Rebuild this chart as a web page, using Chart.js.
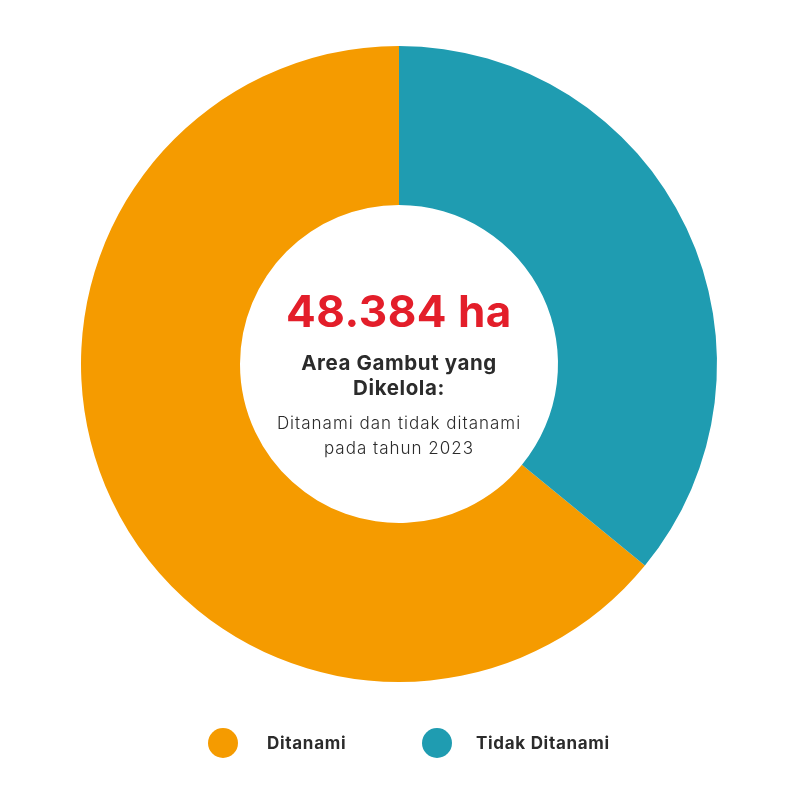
<!DOCTYPE html>
<html>
<head>
<meta charset="utf-8">
<script src="https://cdn.jsdelivr.net/npm/chart.js@4"></script>
<style>
  body { margin: 0; background: #fff; }
  #wrap { width: 810px; height: 810px; }
</style>
</head>
<body>
<div id="wrap"><canvas id="donut" width="810" height="810"></canvas></div>
<script>
// data (ha)
var categories = ['Ditanami', 'Tidak Ditanami'];
var luas = [31000, 17384];
var warna = ['#F59B00', '#1F9CB1'];
var judul = '48.384 ha';
var subjudul = ['Area Gambut yang', 'Dikelola:'];
var keterangan = ['Ditanami dan tidak ditanami', 'pada tahun 2023'];

var total = luas[0] + luas[1];
var FONT = 'Inter, "Open Sans", sans-serif';

// center text + legend drawn on the canvas
var centerText = {
  id: 'centerText',
  afterDraw: function(chart) {
    var ctx = chart.ctx;
    var meta = chart.getDatasetMeta(0).data[0];
    var cx = meta.x, cy = meta.y;
    ctx.save();
    ctx.textAlign = 'center';
    ctx.textBaseline = 'middle';
    ctx.fillStyle = '#E31E2A';
    ctx.letterSpacing = '0.5px';
    ctx.font = 'bold 44px ' + FONT;
    ctx.fillText(judul, cx, cy - 50);
    ctx.fillStyle = '#2B2B2B';
    ctx.letterSpacing = '0.6px';
    ctx.font = 'bold 20.5px ' + FONT;
    ctx.fillText(subjudul[0], cx, cy + 0);
    ctx.fillText(subjudul[1], cx, cy + 25);
    ctx.letterSpacing = '1px';
    ctx.font = '300 17px ' + FONT;
    ctx.fillText(keterangan[0], cx, cy + 60);
    ctx.fillText(keterangan[1], cx, cy + 85);
    ctx.restore();
  }
};

var bottomLegend = {
  id: 'bottomLegend',
  afterDraw: function(chart) {
    var ctx = chart.ctx;
    var dotX = [223, 437];
    var textX = [267, 476];
    var y = 743;
    ctx.save();
    ctx.textBaseline = 'middle';
    ctx.textAlign = 'left';
    ctx.letterSpacing = '0.7px';
    ctx.font = 'bold 17px ' + FONT;
    for (var i = 0; i < categories.length; i++) {
      ctx.beginPath();
      ctx.fillStyle = chart.data.datasets[0].backgroundColor[i];
      ctx.arc(dotX[i], y, 15, 0, Math.PI * 2);
      ctx.fill();
      ctx.fillStyle = '#2B2B2B';
      ctx.fillText(chart.data.labels[i], textX[i], y + 1);
    }
    ctx.restore();
  }
};

new Chart(document.getElementById('donut'), {
  type: 'doughnut',
  data: {
    labels: categories,
    datasets: [{
      data: luas,
      backgroundColor: warna,
      borderWidth: 0,
      hoverOffset: 0
    }]
  },
  options: {
    responsive: false,
    animation: false,
    cutout: '50%',
    rotation: luas[1] / total * 360,
    layout: { padding: { top: 46, bottom: 128, left: 0, right: 12 } },
    plugins: {
      legend: { display: false },
      tooltip: { enabled: false }
    }
  },
  plugins: [centerText, bottomLegend]
});
</script>
</body>
</html>
